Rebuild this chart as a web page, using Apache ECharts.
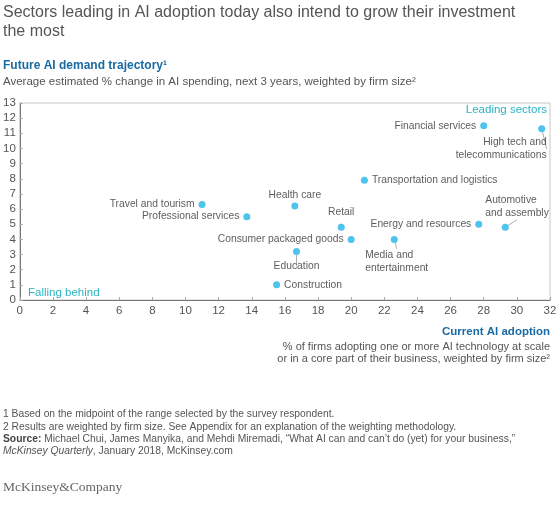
<!DOCTYPE html>
<html>
<head>
<meta charset="utf-8">
<script src="https://cdn.jsdelivr.net/npm/echarts@6/dist/echarts.min.js"></script>
<style>
html,body{margin:0;padding:0;background:#fff;}
#chart{width:560px;height:505px;}
</style>
</head>
<body>
<div id="chart"></div>
<script>
// ---- data ----
const sectors = [
  'Travel and tourism', 'Professional services', 'Health care', 'Education',
  'Construction', 'Retail', 'Consumer packaged goods', 'Transportation and logistics',
  'Media and entertainment', 'Energy and resources', 'Automotive and assembly',
  'Financial services', 'High tech and telecommunications'
];
const adoption = [11.0, 13.7, 16.6, 16.7, 15.5, 19.4, 20.0, 20.8, 22.6, 27.7, 29.3, 28.0, 31.5];
const demand   = [6.3, 5.5, 6.2, 3.2, 1.0, 4.8, 4.0, 7.9, 4.0, 5.0, 4.8, 11.5, 11.3];
const xTicks = [0, 2, 4, 6, 8, 10, 12, 14, 16, 18, 20, 22, 24, 26, 28, 30, 32];
const yTicks = [0, 1, 2, 3, 4, 5, 6, 7, 8, 9, 10, 11, 12, 13];

// ---- label styling (layout only) ----
const FONT = '"Liberation Sans", Arial, Helvetica, sans-serif';
const labelStyle = {
  'Travel and tourism': {position: 'left', distance: 4},
  'Professional services': {position: 'left', distance: 4},
  'Health care': {position: 'top', distance: 1},
  'Education': {position: 'bottom', distance: 5, line: true},
  'Construction': {position: 'right', distance: 4},
  'Retail': {position: 'top', distance: 5, line: true},
  'Consumer packaged goods': {position: 'left', distance: 4},
  'Transportation and logistics': {position: 'right', distance: 4},
  'Media and entertainment': {position: 'bottom', distance: 6, align: 'left', offset: [-29, 0], text: 'Media and\nentertainment', line: true},
  'Energy and resources': {position: 'left', distance: 4},
  'Automotive and assembly': {position: 'top', distance: 4, align: 'left', offset: [-20, 0], text: 'Automotive\nand assembly', line: true},
  'Financial services': {position: 'left', distance: 4},
  'High tech and telecommunications': {position: 'bottom', distance: 4, align: 'right', offset: [5, 0], text: 'High tech and\ntelecommunications', line: true}
};

const points = sectors.map((name, i) => {
  const s = labelStyle[name];
  const label = {
    show: true,
    position: s.position,
    distance: s.distance,
    formatter: s.text || name,
    lineHeight: 12.8
  };
  if (s.align) label.align = s.align;
  if (s.offset) label.offset = s.offset;
  return {
    name: name,
    value: [adoption[i], demand[i]],
    label: label,
    labelLine: {show: !!s.line, lineStyle: {color: '#999', width: 0.8}}
  };
});

const chart = echarts.init(document.getElementById('chart'), null, {renderer: 'canvas'});
chart.setOption({
  animation: false,
  backgroundColor: '#fff',
  textStyle: {fontFamily: FONT},
  grid: {
    left: 19, right: 10, top: 103, bottom: 205,
    show: true, borderColor: '#c8c8c8', borderWidth: 1
  },
  xAxis: {
    type: 'value', min: xTicks[0], max: xTicks[xTicks.length - 1], interval: 2,
    axisLine: {show: true, lineStyle: {color: '#777', width: 1}},
    axisTick: {show: true, inside: true, length: 3, lineStyle: {color: '#aaa'}},
    axisLabel: {color: '#555', fontSize: 11.5, margin: 5, fontFamily: FONT},
    splitLine: {show: false}
  },
  yAxis: {
    type: 'value', min: yTicks[0], max: yTicks[yTicks.length - 1], interval: 1,
    axisLine: {show: true, lineStyle: {color: '#777', width: 1}},
    axisTick: {show: true, inside: true, length: 3, lineStyle: {color: '#aaa'}},
    axisLabel: {color: '#555', fontSize: 11.5, margin: 4, fontFamily: FONT},
    splitLine: {show: false}
  },
  series: [{
    type: 'scatter',
    symbolSize: 7,
    itemStyle: {color: '#22b4e8'},
    label: {color: '#333', fontSize: 10.3, fontFamily: FONT},
    data: points
  }],
  graphic: [
    {type: 'text', left: 3, top: 3, style: {text: 'Sectors leading in AI adoption today also intend to grow their investment\nthe most', fill: '#555', fontSize: 16, fontFamily: FONT, lineHeight: 19}},
    {type: 'text', left: 3, top: 60, style: {text: 'Future AI demand trajectory¹', fill: '#1a6aa3', fontSize: 12, fontWeight: 'bold', fontFamily: FONT}},
    {type: 'text', left: 3, top: 76, style: {text: 'Average estimated % change in AI spending, next 3 years, weighted by firm size²', fill: '#555', fontSize: 11.5, fontFamily: FONT}},
    {type: 'text', x: 547, y: 110, style: {text: 'Leading sectors', fill: '#2ab4c4', fontSize: 11.5, fontFamily: FONT, align: 'right', verticalAlign: 'middle'}},
    {type: 'text', x: 28, y: 293, style: {text: 'Falling behind', fill: '#2ab4c4', fontSize: 11.5, fontFamily: FONT, align: 'left', verticalAlign: 'middle'}},
    {type: 'text', x: 550, y: 332, style: {text: 'Current AI adoption', fill: '#1a6aa3', fontSize: 11.5, fontWeight: 'bold', fontFamily: FONT, align: 'right', verticalAlign: 'middle'}},
    {type: 'text', x: 550, y: 353, style: {text: '% of firms adopting one or more AI technology at scale\nor in a core part of their business, weighted by firm size²', fill: '#555', fontSize: 11, lineHeight: 12.5, fontFamily: FONT, align: 'right', verticalAlign: 'middle'}},
    {type: 'text', x: 3, y: 433, style: {
      text: '1 Based on the midpoint of the range selected by the survey respondent.\n2 Results are weighted by firm size. See Appendix for an explanation of the weighting methodology.\n{b|Source:} Michael Chui, James Manyika, and Mehdi Miremadi, \u201cWhat AI can and can\u2019t do (yet) for your business,\u201d\n{i|McKinsey Quarterly}, January 2018, McKinsey.com',
      fill: '#555', fontSize: 10.3, lineHeight: 12.3, fontFamily: FONT, align: 'left', verticalAlign: 'middle',
      rich: {
        b: {fontWeight: 'bold', fill: '#444', fontSize: 10.3, fontFamily: FONT},
        i: {fontStyle: 'italic', fill: '#555', fontSize: 10.3, fontFamily: FONT}
      }
    }},
    {type: 'text', x: 3, y: 487, style: {text: 'McKinsey&Company', fill: '#666', fontSize: 13.5, fontFamily: '"Liberation Serif", "DejaVu Serif", serif', align: 'left', verticalAlign: 'middle'}}
  ]
});
</script>
</body>
</html>
